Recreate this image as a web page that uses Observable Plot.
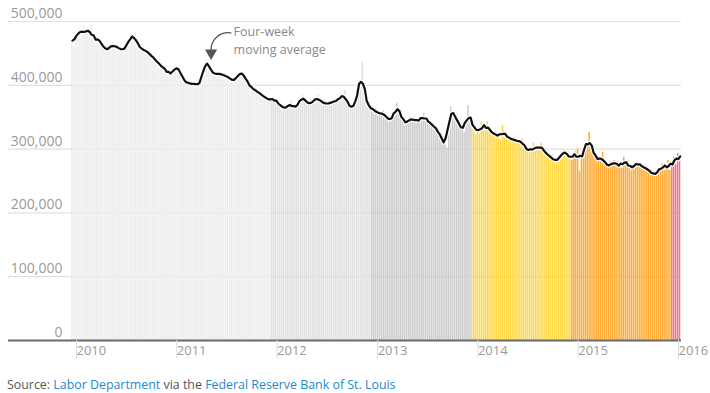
<!DOCTYPE html>
<html>
<head>
<meta charset="utf-8">
<script src="https://cdn.jsdelivr.net/npm/d3@7"></script>
<script src="https://cdn.jsdelivr.net/npm/@observablehq/plot@0.6"></script>
<style>
  body { margin: 0; background: #fff; font-family: "Open Sans", sans-serif; }
  #chart svg { display: block; }
  .source { margin: 8px 0 0 7px; font-size: 12.4px; line-height: 18px; color: #555; font-family: "Open Sans", sans-serif; }
  .source span.link { color: #1d8ad1; }
</style>
</head>
<body>
<div id="chart"></div>
<div class="source">Source: <span class="link">Labor Department</span> via the <span class="link">Federal Reserve Bank of St. Louis</span></div>
<script>
// Weekly initial jobless claims, thousands
const years = [2010, 2011, 2012, 2013, 2014, 2015, 2016];
const claims2010 = [468,460,482,478,490,474,492,480,488,478,496,472,470,476,468,474,462,458,450,462,456,466,460,464,455,462,452,458,454,466,472,480,470,484,462,466,452,460,452,458,446,453,440,446,436,438,428,434,422,428,420,414];
const claims2011 = [422,418,432,426,430,414,410,404,408,398,406,400,405,398,404,400,412,436,440,432,428,418,420,414,422,416,420,412,418,412,414,406,410,404,414,418,422,416,418,406,402,398,394,396,388,392,384,388,380,382,376,380];
const claims2012 = [374,382,378,370,374,364,368,360,368,366,376,366,362,366,372,378,384,376,378,368,372,370,380,376,384,374,376,370,374,368,374,370,378,372,378,374,388,378,392,370,374,362,366,364,378,390,404,436,392,378,370,362];
const claims2013 = [366,360,364,352,358,354,360,350,352,342,348,346,358,372,358,362,346,336,344,342,350,344,350,340,348,344,346,356,348,342,346,336,340,330,334,326,318,314,308,302,344,366,360,352,348,342,338,330,326,340,368,346];
const claims2014 = [340,344,322,330,324,343,328,336,343,326,330,322,328,318,324,314,337,318,326,314,320,312,318,310,316,308,316,306,304,298,294,298,309,296,300,304,309,296,300,288,294,284,290,278,284,280,290,292,298,292,296,284];
const claims2015 = [282,290,296,300,266,290,302,296,308,326,300,304,292,280,284,282,295,278,274,270,280,274,282,274,280,272,270,287,276,282,272,266,274,274,280,279,270,276,268,272,264,268,260,258,262,264,270,277,266,272,282,266];
const claims2016 = [274,287,276,293,284];
const claimsByYear = [claims2010, claims2011, claims2012, claims2013, claims2014, claims2015, claims2016];
const yearColors = ["#ededed", "#ededed", "#e1e1e1", "#cdcdcd", "#ffd84a", "#ffab35", "#ef7a85"];

const yTicks = [0, 100000, 200000, 300000, 400000, 500000];
const xTickYears = [2010, 2011, 2012, 2013, 2014, 2015, 2016];
const annotationLines = ["Four-week", "moving average"];

// Build the weekly table
const firstWeek = new Date(Date.UTC(2010, 0, 1));
const rows = [];
let idx = 0;
claimsByYear.forEach((arr, yi) => {
  arr.forEach(v => {
    const start = d3.utcDay.offset(firstWeek, 7 * idx);
    rows.push({
      start,
      end: d3.utcDay.offset(start, 7),
      mid: d3.utcHour.offset(start, 84),
      value: v * 1000,
      color: yearColors[yi],
      year: years[yi]
    });
    idx++;
  });
});

const tickDates = xTickYears.map(y => new Date(Date.UTC(y, 0, 1)));
const annText = [
  {x: new Date(Date.UTC(2011, 7, 14)), y: 483000, t: annotationLines[0]},
  {x: new Date(Date.UTC(2011, 7, 14)), y: 455000, t: annotationLines[1]}
];
const annArrow = [{x1: new Date(Date.UTC(2011, 7, 4)), y1: 482000, x2: new Date(Date.UTC(2011, 4, 24)), y2: 456000}];
const annTip = [{x: new Date(Date.UTC(2011, 4, 24)), y: 450500}];

const chart = Plot.plot({
  width: 710,
  height: 368,
  marginTop: 21,
  marginBottom: 28,
  marginLeft: 8,
  marginRight: 29,
  style: {fontFamily: "Open Sans, sans-serif", background: "#fff"},
  x: {type: "utc", domain: [tickDates[0], tickDates[tickDates.length - 1]], range: [71, 673]},
  y: {domain: [0, 500000], nice: false},
  marks: [
    Plot.gridY(yTicks.filter(d => d > 0), {stroke: "#e0e0e0", strokeOpacity: 1, strokeWidth: 1.2}),
    Plot.rectY(rows, {x1: "start", x2: "end", y: "value", fill: "color", insetRight: 0.4}),
    Plot.lineY(rows, Plot.windowY({k: 4, anchor: "middle"}, {x: "mid", y: "value", stroke: "#fff", strokeWidth: 4.5, strokeLinejoin: "round"})),
    Plot.lineY(rows, Plot.windowY({k: 4, anchor: "middle"}, {x: "mid", y: "value", stroke: "#111", strokeWidth: 2.2, strokeLinejoin: "round"})),
    Plot.ruleY([0], {stroke: "#6b6b6b", strokeWidth: 2}),
    Plot.axisY(yTicks, {anchor: "left", tickSize: 0, tickPadding: 0, dx: 54, dy: -8, textAnchor: "end", tickFormat: d3.format(","), fill: "#9a9a9a", fontSize: 14, label: null}),
    Plot.axisX(tickDates, {anchor: "bottom", tickSize: 18, tickPadding: -13, tickFormat: d3.utcFormat("%Y"), textAnchor: "start", dx: 5, stroke: "#dcdcdc", fill: "#9a9a9a", fontSize: 13, label: null}),
    Plot.arrow(annArrow, {x1: "x1", y1: "y1", x2: "x2", y2: "y2", bend: -50, headLength: 0, stroke: "#555", strokeWidth: 1.3}),
    Plot.dot(annTip, {x: "x", y: "y", symbol: "triangle", r: 4.5, fill: "#555", rotate: 180}),
    Plot.text(annText, {x: "x", y: "y", text: "t", textAnchor: "start", fill: "#8a8a8a", fontSize: 12.5})
  ]
});
document.getElementById("chart").appendChild(chart);
</script>
</body>
</html>
